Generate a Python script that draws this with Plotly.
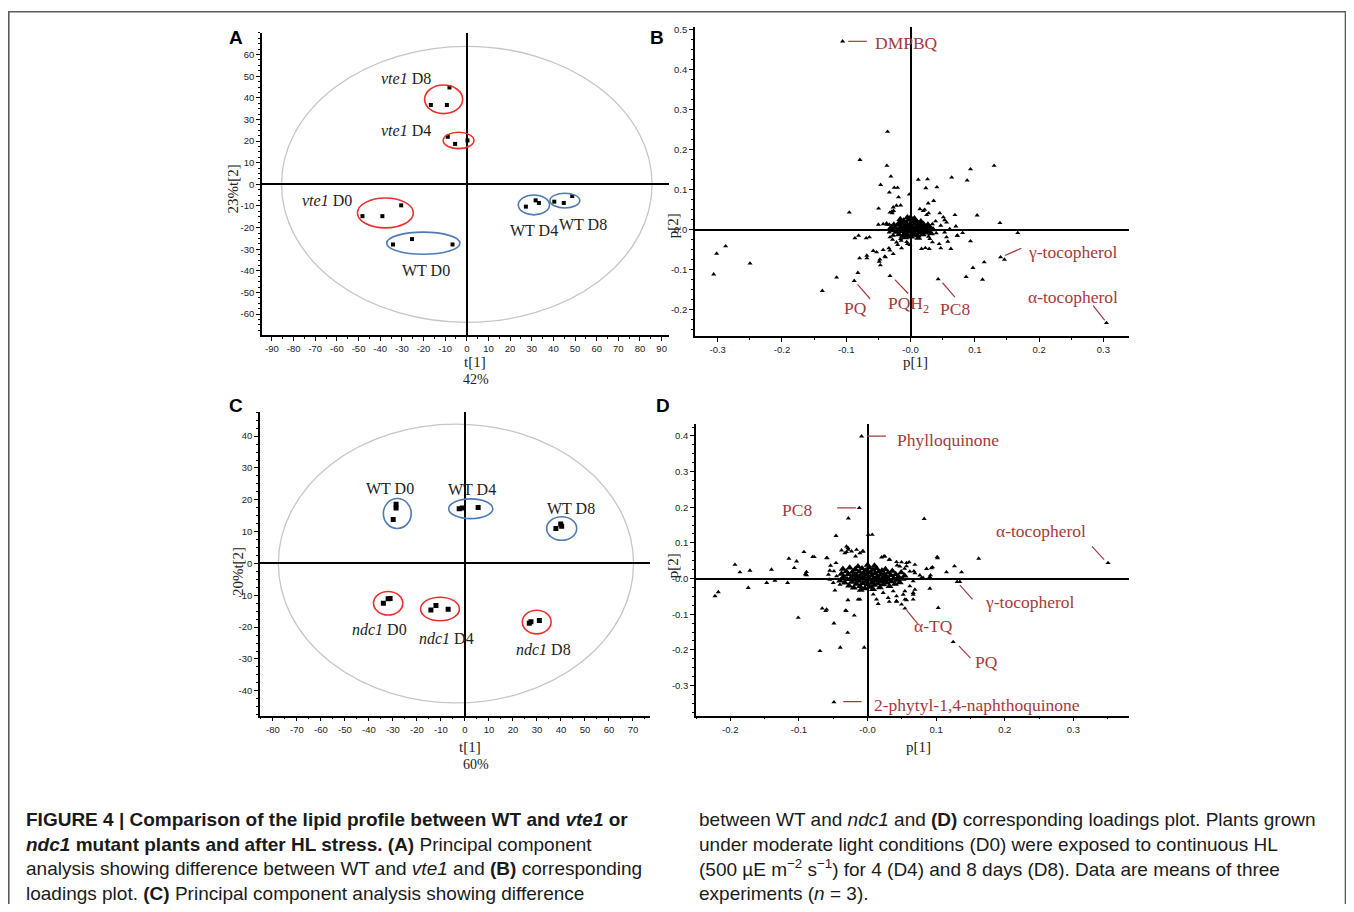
import plotly.graph_objects as go

# The page body adds an 8 px margin, so the figure is laid out in page pixels minus OFF.
OFF = 8
W, H = 1338, 896

def fx(px):
    return (px - OFF) / W

def fy(py):
    return 1 - (py - OFF) / H

SERIF = "Liberation Serif"
SANS = "Liberation Sans"
RED = "#e8312f"
BLUE = "#4f7bb5"
LBL = "#a53a3a"
GREY = "#c6c6c6"

# ---------------- DATA ----------------
# Panel A: PCA scores WT vs vte1
A_groups = ["<i>vte1</i> D8", "<i>vte1</i> D4", "<i>vte1</i> D0", "WT D0", "WT D4", "WT D8"]
A_geno = ["mut", "mut", "mut", "wt", "wt", "wt"]
A_x = [[-8.0, -16.6, -9.2], [-8.8, -5.4, 0.3], [-48.2, -39.0, -30.3],
       [-34.1, -25.3, -6.6], [27.3, 31.8, 33.3], [40.4, 44.8, 48.7]]
A_y = [[44.8, 36.7, 36.7], [22.0, 18.7, 20.3], [-14.7, -14.7, -9.7],
       [-27.8, -25.3, -27.8], [-10.3, -7.4, -8.6], [-8.0, -8.6, -5.4]]
A_ell_cx = [-10.7, -3.8, -37.6, -20.1, 31.0, 45.3]
A_ell_cy = [39.3, 20.3, -13.2, -27.2, -9.5, -7.5]
A_ell_rx = [8.8, 7.1, 12.9, 16.9, 7.2, 6.9]
A_ell_ry = [6.6, 3.8, 6.9, 5.1, 4.6, 3.4]
A_lab_x = [-28.0, -28.0, -64.5, -18.9, 30.9, 53.9]
A_lab_y = [48.8, 24.9, -7.4, -39.6, -21.2, -18.4]
A_hotelling = (0.0, 0.0, 85.6, 63.8)
A_xticks = list(range(-90, 91, 10))
A_yticks = list(range(-60, 61, 10))

# Panel C: PCA scores WT vs ndc1
C_groups = ["WT D0", "WT D4", "WT D8", "<i>ndc1</i> D0", "<i>ndc1</i> D4", "<i>ndc1</i> D8"]
C_geno = ["wt", "wt", "wt", "mut", "mut", "mut"]
C_x = [[-28.7, -28.7, -29.9], [-2.4, -1.1, 5.5], [37.9, 39.9, 40.3],
       [-34.0, -31.2, -32.0], [-14.2, -12.1, -7.0], [26.8, 27.5, 31.0]]
C_y = [[18.6, 17.4, 13.8], [17.2, 17.4, 17.6], [11.0, 12.4, 11.7],
       [-12.5, -11.0, -11.1], [-14.6, -13.2, -14.4], [-18.8, -18.3, -17.9]]
C_ell_cx = [-28.2, 2.4, 40.3, -32.0, -10.4, 29.9]
C_ell_cy = [15.7, 17.2, 11.0, -12.5, -14.3, -18.4]
C_ell_rx = [5.8, 9.2, 6.25, 6.1, 8.1, 6.0]
C_ell_ry = [4.7, 3.1, 3.7, 3.7, 3.7, 3.7]
C_lab_x = [-31.2, 3.0, 44.0, -35.7, -7.6, 32.6]
C_lab_y = [23.7, 23.4, 17.4, -20.7, -23.5, -27.0]
C_hotelling = (-3.75, 0.0, 74.0, 43.8)
C_xticks = list(range(-80, 71, 10))
C_yticks = list(range(-40, 41, 10))

# Panel B: loadings (p[1], p[2]) for WT vs vte1
B_points = [
    (-0.1057, 0.471), (-0.0358, 0.245), (-0.0788, 0.1746), (-0.0368, 0.160), (-0.0306, 0.133),
    (-0.0466, 0.112), (-0.0254, 0.105), (-0.0202, 0.105), (-0.033, 0.093), (-0.0187, 0.081),
    (-0.0953, 0.043), (-0.0497, 0.053), (0.012, 0.125), (0.0264, 0.126), (0.0238, 0.104),
    (0.041, 0.106), (0.036, 0.072), (0.0274, 0.0656), (0.064, 0.1305), (0.0933, 0.151),
    (0.088, 0.123), (0.130, 0.160), (0.069, 0.0366), (0.1036, 0.0357), (0.139, 0.0166),
    (0.1668, -0.0083), (0.0933, -0.029), (0.140, -0.069), (0.146, -0.075), (0.1145, -0.0815),
    (0.097, -0.0956), (0.0865, -0.118), (0.112, -0.125), (0.043, -0.124), (0.3047, -0.2336),
    (-0.3016, -0.060), (-0.2876, -0.0416), (-0.3062, -0.112), (-0.2497, -0.0848), (-0.1373, -0.153),
    (-0.115, -0.1197), (-0.0876, -0.128), (-0.0819, -0.108), (-0.0793, -0.0715), (-0.0679, -0.0715),
    (-0.068, -0.065), (-0.0865, -0.0216), (-0.0808, -0.015), (-0.069, -0.0216), (-0.064, -0.019),
    (-0.058, -0.053), (-0.0528, -0.0565), (-0.0487, -0.080), (-0.047, -0.089), (-0.039, -0.069),
    (-0.032, -0.052), (-0.032, -0.116), (-0.020, -0.038), (-0.050, 0.0125), (-0.0368, 0.0125),
    (-0.033, 0.0125), (-0.032, 0.043), (-0.0285, 0.041), (-0.027, 0.0557), (-0.022, 0.060),
    (-0.0155, 0.0606), (-0.002, 0.088), (0.0145, 0.0515), (0.0197, 0.047), (0.025, 0.0366),
    (0.028, 0.041), (0.0455, 0.041), (0.051, 0.031), (0.053, 0.024), (0.056, 0.018),
    (0.039, 0.021), (0.034, 0.014), (0.047, 0.010), (0.061, 0.0017), (0.0705, 0.0083),
    (0.081, -0.0083), (0.040, -0.009), (0.053, -0.0067), (0.0725, -0.015), (0.056, -0.019),
    (0.058, -0.030), (0.030, -0.023), (0.028, -0.0175), (0.034, -0.0316), (0.029, -0.048),
    (0.017, -0.048), (0.023, -0.046), (0.0445, -0.036), (0.047, -0.0466), (0.0627, -0.048),
    (0.073, -0.015), (-0.006, -0.031), (-0.0155, -0.023), (-0.0088, -0.019), (-0.027, -0.015),
    (-0.0426, 0.014), (-0.0373, 0.0157), (-0.0333, -0.0067), (-0.027, -0.0134), (-0.032, -0.019),
    (-0.028, -0.025), (-0.0218, -0.0317), (-0.0146, -0.0275), (-0.0047, -0.036), (-0.014, -0.0466),
    (-0.001, -0.038), (-0.0426, -0.051), (-0.0337, -0.0466), (-0.040, -0.0673), (-0.027, -0.0608),
    (-0.0477, -0.0748), (-0.029, 0.045), (-0.0264, 0.047), (0.022, 0.0499),
]
B_core = [
    (-0.024, 0.004), (-0.022, -0.006), (-0.020, 0.012), (-0.019, 0.000), (-0.018, -0.012),
    (-0.017, 0.018), (-0.015, 0.006), (-0.014, -0.004), (-0.013, 0.014), (-0.012, -0.016),
    (-0.011, 0.022), (-0.010, 0.002), (-0.009, -0.009), (-0.008, 0.010), (-0.007, 0.017),
    (-0.006, -0.002), (-0.005, -0.014), (-0.004, 0.006), (-0.003, 0.024), (-0.002, -0.006),
    (-0.001, 0.013), (0.000, 0.000), (0.001, -0.018), (0.002, 0.008), (0.003, 0.019),
    (0.004, -0.004), (0.005, 0.003), (0.006, -0.011), (0.007, 0.014), (0.008, 0.023),
    (0.009, -0.002), (0.010, 0.007), (0.011, -0.015), (0.012, 0.016), (0.013, 0.001),
    (0.014, -0.007), (0.015, 0.011), (0.016, 0.020), (0.017, -0.003), (0.018, 0.005),
    (0.019, -0.012), (0.020, 0.014), (0.021, -0.001), (0.022, 0.008), (0.023, -0.008),
    (0.025, 0.003), (0.027, 0.012), (0.028, -0.004), (-0.026, 0.012), (-0.027, -0.002),
    (0.030, 0.006), (-0.016, 0.026), (0.006, 0.028), (0.012, -0.021), (-0.008, -0.020),
    (0.000, 0.030), (0.032, -0.010), (0.035, 0.000), (-0.030, 0.006), (0.002, -0.012),
    (-0.005, 0.030),
]
B_labels = ["DMPBQ", "γ-tocopherol", "α-tocopherol", "PQ", "PQH<sub>2</sub>", "PC8"]
B_lab_x = [-0.0065, 0.252, 0.253, -0.085, -0.0037, 0.069]
B_lab_y = [0.467, -0.055, -0.169, -0.196, -0.188, -0.198]
B_lead = [(-0.097, 0.471, -0.068, 0.471), (0.1466, -0.065, 0.1725, -0.0466),
          (0.284, -0.190, 0.302, -0.227), (-0.0824, -0.137, -0.063, -0.173),
          (-0.0244, -0.125, -0.0037, -0.160), (0.0497, -0.133, 0.069, -0.169)]
B_xticks = [-0.3, -0.2, -0.1, 0.0, 0.1, 0.2, 0.3]
B_xtext = ["-0.3", "-0.2", "-0.1", "-0.0", "0.1", "0.2", "0.3"]
B_yticks = [-0.2, -0.1, 0.0, 0.1, 0.2, 0.3, 0.4, 0.5]
B_ytext = ["-0.2", "-0.1", "0.0", "0.1", "0.2", "0.3", "0.4", "0.5"]

# Panel D: loadings for WT vs ndc1
D_points = [
    (-0.0087, 0.399), (-0.012, 0.198), (-0.028, 0.169), (0.0825, 0.1676), (-0.046, 0.120),
    (0.001, 0.123), (0.0068, 0.123), (-0.0306, 0.090), (-0.0286, 0.0857), (0.1015, 0.0605),
    (0.162, 0.056), (0.3505, 0.0438), (0.1267, 0.0345), (0.115, 0.0177), (0.137, 0.0177),
    (0.1306, -0.0093), (0.1345, -0.0093), (0.0908, -0.028), (0.103, -0.082), (0.0544, -0.0838),
    (0.1248, -0.178), (-0.049, -0.347), (-0.0049, -0.1937), (-0.0398, -0.1937), (-0.0694, -0.203),
    (-0.029, -0.152), (-0.049, -0.1257), (-0.0194, -0.1034), (-0.031, -0.091), (-0.061, -0.091),
    (-0.066, -0.0838), (-0.101, -0.110), (-0.0286, -0.0605), (-0.0476, -0.0335), (-0.011, -0.0587),
    (-0.2223, -0.049), (-0.2175, -0.038), (-0.1738, -0.026), (-0.1932, 0.039), (-0.186, 0.0177),
    (-0.1714, 0.0223), (-0.147, -0.012), (-0.140, 0.025), (-0.135, -0.0056), (-0.1165, -0.012),
    (-0.1146, 0.0559), (-0.1068, 0.0298), (-0.1034, 0.0484), (-0.0927, 0.0745), (-0.0903, 0.013),
    (-0.0888, 0.0093), (-0.080, 0.0605), (-0.0777, 0.0605), (-0.0597, 0.0577), (-0.0539, 0.0363),
    (-0.049, 0.0205), (-0.0379, 0.079), (-0.0306, 0.0745), (-0.0282, 0.081), (-0.016, 0.081),
    (-0.0063, 0.0763), (0.0252, 0.0624), (0.0325, 0.053), (0.0422, 0.0466), (0.0568, 0.0438),
    (0.069, 0.039), (0.0432, 0.037), (0.0568, 0.0345), (0.0675, 0.0205), (0.081, 0.0019),
    (0.0917, 0.0093), (0.0947, 0.0317), (0.0665, -0.040), (0.0544, -0.0354), (0.0422, -0.065),
    (0.0316, -0.065), (0.0495, -0.0726), (0.0568, -0.0605), (0.0155, -0.0708), (0.0083, -0.0447),
    (-0.0039, -0.026), (-0.050, -0.012), (-0.0549, -0.0028), (-0.0403, -0.0168), (-0.0451, 0.0065),
    (-0.0379, 0.0158), (-0.0588, 0.0575), (-0.046, 0.0436), (-0.055, 0.0224), (-0.057, 0.011),
    (-0.0597, -0.0866), (-0.032, -0.0894), (-0.0137, -0.0587), (0.0204, 0.0595), (0.0315, 0.0531),
    (-0.033, 0.0716), (-0.0233, 0.0763), (-0.0175, 0.0623), (-0.0112, 0.0716), (-0.0073, 0.0763),
    (-0.089, 0.0184), (-0.090, 0.011), (0.102, 0.0575), (0.086, 0.0274), (0.093, 0.0293),
    (0.0907, 0.0045), (0.0237, 0.0621), (0.0495, 0.046), (0.0606, 0.046), (0.0471, 0.034),
    (0.054, 0.0275), (0.0616, 0.020), (0.069, 0.0155), (0.0762, 0.009), (0.0787, 0.0017),
    (0.0665, -0.0075), (0.0616, -0.0215), (0.069, -0.031), (0.0665, -0.045), (0.052, -0.045),
    (0.0422, -0.0496), (0.0374, -0.0355), (0.0422, -0.0633), (0.0544, -0.0587), (0.0665, -0.0587),
    (0.030, -0.0542), (0.0228, -0.0402), (0.013, -0.0587),
]
D_core = [
    (-0.035, 0.005), (-0.033, -0.012), (-0.031, 0.020), (-0.030, -0.002), (-0.028, 0.012),
    (-0.027, -0.020), (-0.026, 0.030), (-0.024, 0.002), (-0.023, -0.010), (-0.022, 0.018),
    (-0.021, 0.008), (-0.020, -0.026), (-0.019, -0.004), (-0.018, 0.026), (-0.017, 0.012),
    (-0.016, -0.015), (-0.015, 0.004), (-0.014, 0.034), (-0.013, -0.007), (-0.012, 0.019),
    (-0.011, -0.022), (-0.010, 0.009), (-0.009, -0.001), (-0.008, 0.028), (-0.007, -0.013),
    (-0.006, 0.015), (-0.005, 0.004), (-0.004, -0.028), (-0.003, 0.022), (-0.002, -0.008),
    (-0.001, 0.011), (0.000, -0.017), (0.001, 0.003), (0.002, 0.031), (0.003, -0.004),
    (0.004, 0.017), (0.005, -0.024), (0.006, 0.008), (0.007, -0.011), (0.008, 0.024),
    (0.009, 0.000), (0.010, -0.018), (0.011, 0.014), (0.012, -0.006), (0.013, 0.029),
    (0.014, 0.005), (0.015, -0.014), (0.016, 0.019), (0.017, -0.002), (0.018, -0.025),
    (0.019, 0.010), (0.020, -0.009), (0.021, 0.022), (0.022, 0.001), (0.023, -0.017),
    (0.024, 0.013), (0.025, -0.005), (0.026, 0.026), (0.027, 0.006), (0.028, -0.012),
    (0.030, 0.016), (0.031, -0.002), (0.032, -0.022), (0.034, 0.009), (0.035, -0.008),
    (0.036, 0.021), (0.038, 0.000), (0.040, -0.015), (0.041, 0.012), (0.043, -0.004),
    (0.045, 0.005), (0.047, -0.011), (0.049, 0.017), (0.051, -0.001), (0.054, 0.008),
    (-0.038, 0.013), (-0.040, -0.006), (-0.036, 0.027), (0.000, 0.038), (0.010, 0.036),
    (-0.010, -0.032), (0.008, -0.030),
]
D_labels = ["Phylloquinone", "PC8", "α-tocopherol", "γ-tocopherol", "α-TQ", "PQ",
            "2-phytyl-1,4-naphthoquinone"]
D_lab_x = [0.1175, -0.1034, 0.2524, 0.2374, 0.0966, 0.1733, 0.160]
D_lab_y = [0.388, 0.191, 0.132, -0.066, -0.133, -0.2337, -0.355]
D_lead = [(-0.0005, 0.3995, 0.0267, 0.3995), (-0.0442, 0.198, -0.017, 0.198),
          (0.327, 0.0903, 0.3447, 0.053), (0.1345, -0.0186, 0.153, -0.0587),
          (0.0568, -0.0885, 0.0738, -0.1285), (0.133, -0.189, 0.150, -0.2235),
          (-0.0354, -0.3454, -0.0087, -0.3454)]
D_xticks = [-0.2, -0.1, 0.0, 0.1, 0.2, 0.3]
D_xtext = ["-0.2", "-0.1", "-0.0", "0.1", "0.2", "0.3"]
D_yticks = [-0.3, -0.2, -0.1, 0.0, 0.1, 0.2, 0.3, 0.4]
D_ytext = ["-0.3", "-0.2", "-0.1", "-0.0", "0.1", "0.2", "0.3", "0.4"]

CAPTION_LEFT = [
    "<b>FIGURE 4 | Comparison of the lipid profile between WT and <i>vte1</i> or</b>",
    "<b><i>ndc1</i> mutant plants and after HL stress. (A)</b> Principal component",
    "analysis showing difference between WT and <i>vte1</i> and <b>(B)</b> corresponding",
    "loadings plot. <b>(C)</b> Principal component analysis showing difference",
]
CAPTION_RIGHT = [
    "between WT and <i>ndc1</i> and <b>(D)</b> corresponding loadings plot. Plants grown",
    "under moderate light conditions (D0) were exposed to continuous HL",
    "(500 µE m<sup>−2</sup> s<sup>−1</sup>) for 4 (D4) and 8 days (D8). Data are means of three",
    "experiments (<i>n</i> = 3).",
]

# ---------------- FIGURE ----------------
fig = go.Figure()
annotations = []
shapes = []

geno_color = {"wt": BLUE, "mut": RED}


def add_scores(groups, geno, xs, ys, cx, cy, rx, ry, lx, ly, hot, xa, ya, msize):
    hx, hy, hrx, hry = hot
    shapes.append(dict(type="circle", xref=xa, yref=ya, x0=hx - hrx, x1=hx + hrx,
                       y0=hy - hry, y1=hy + hry, line=dict(color=GREY, width=1.3), layer="below"))
    for i, g in enumerate(groups):
        fig.add_trace(go.Scatter(x=xs[i], y=ys[i], mode="markers", xaxis=xa, yaxis=ya,
                                 marker=dict(symbol="square", size=msize, color="black"),
                                 showlegend=False, hoverinfo="skip"))
        shapes.append(dict(type="circle", xref=xa, yref=ya, x0=cx[i] - rx[i], x1=cx[i] + rx[i],
                           y0=cy[i] - ry[i], y1=cy[i] + ry[i],
                           line=dict(color=geno_color[geno[i]], width=1.6)))
        annotations.append(dict(x=lx[i], y=ly[i], xref=xa, yref=ya, text=g, showarrow=False,
                                font=dict(family=SERIF, size=16, color="#222")))


def add_loadings(points, core, labels, lx, ly, lead, xa, ya):
    fig.add_trace(go.Scatter(x=[p[0] for p in core], y=[p[1] for p in core], mode="markers",
                             xaxis=xa, yaxis=ya,
                             marker=dict(symbol="triangle-up", size=7, color="black"),
                             showlegend=False, hoverinfo="skip"))
    fig.add_trace(go.Scatter(x=[p[0] for p in points], y=[p[1] for p in points], mode="markers",
                             xaxis=xa, yaxis=ya,
                             marker=dict(symbol="triangle-up", size=4.5, color="black"),
                             showlegend=False, hoverinfo="skip"))
    for i, t in enumerate(labels):
        annotations.append(dict(x=lx[i], y=ly[i], xref=xa, yref=ya, text=t, showarrow=False,
                                font=dict(family=SERIF, size=17.5, color=LBL)))
    for (x0, y0, x1, y1) in lead:
        shapes.append(dict(type="line", xref=xa, yref=ya, x0=x0, y0=y0, x1=x1, y1=y1,
                           line=dict(color=LBL, width=1.2)))


add_scores(A_groups, A_geno, A_x, A_y, A_ell_cx, A_ell_cy, A_ell_rx, A_ell_ry,
           A_lab_x, A_lab_y, A_hotelling, "x", "y", 4)
add_loadings(B_points, B_core, B_labels, B_lab_x, B_lab_y, B_lead, "x2", "y2")
add_scores(C_groups, C_geno, C_x, C_y, C_ell_cx, C_ell_cy, C_ell_rx, C_ell_ry,
           C_lab_x, C_lab_y, C_hotelling, "x3", "y3", 5)
add_loadings(D_points, D_core, D_labels, D_lab_x, D_lab_y, D_lead, "x4", "y4")


def ax(domain, rng, tv, tt, minor_dt, anchor):
    return dict(domain=domain, range=rng, anchor=anchor, showline=True, linecolor="black",
                linewidth=1.6, ticks="outside", ticklen=4, tickwidth=1.2, tickcolor="black",
                tickmode="array", tickvals=tv, ticktext=tt,
                minor=dict(tickmode="linear", tick0=0, dtick=minor_dt, ticks="outside",
                           ticklen=2, tickwidth=1, tickcolor="black"),
                showgrid=False, zeroline=True, zerolinecolor="black", zerolinewidth=1.6,
                tickfont=dict(family=SANS, size=9.5, color="#222"), fixedrange=True)


def lab(v):
    return [str(t) for t in v]

fig.update_layout(
    xaxis=ax([fx(262), fx(669)], [-94.6, 93.4], A_xticks, lab(A_xticks), 5, "y"),
    yaxis=ax([fy(333), fy(30)], [-69.6, 70.0], A_yticks, lab(A_yticks), 2.5, "x"),
    xaxis2=ax([fx(695), fx(1129)], [-0.3353, 0.3398], B_xticks, B_xtext, 0.05, "y2"),
    yaxis2=ax([fy(334), fy(24)], [-0.266, 0.507], B_yticks, B_ytext, 0.025, "x2"),
    xaxis3=ax([fx(260), fx(650)], [-85.4, 77.1], C_xticks, lab(C_xticks), 5, "y3"),
    yaxis3=ax([fy(715), fy(410)], [-47.8, 47.7], C_yticks, lab(C_yticks), 2.5, "x3"),
    xaxis4=ax([fx(696), fx(1129)], [-0.25, 0.381], D_xticks, D_xtext, 0.05, "y4"),
    yaxis4=ax([fy(715), fy(422)], [-0.3846, 0.4346], D_yticks, D_ytext, 0.025, "x4"),
)

# axis titles and panel letters (paper coordinates)
def ptext(px, py, text, size, family=SERIF, angle=0, color="#222", xanchor="center"):
    annotations.append(dict(x=fx(px), y=fy(py), xref="paper", yref="paper", text=text,
                            showarrow=False, textangle=angle, xanchor=xanchor, yanchor="middle",
                            font=dict(family=family, size=size, color=color)))

ptext(475, 360, "t[1]", 15)
ptext(476, 378, "42%", 14)
ptext(233, 187, "23%t[2]", 15, angle=-90)
ptext(915, 360, "p[1]", 15)
ptext(673, 224, "p[2]", 15, angle=-90)
ptext(470, 746, "t[1]", 15)
ptext(476, 764, "60%", 14)
ptext(238, 570, "20%t[2]", 15, angle=-90)
ptext(918, 746, "p[1]", 15)
ptext(673, 565, "p[2]", 15, angle=-90)

for (px, py, t) in [(236, 35, "A"), (657, 35, "B"), (236, 404, "C"), (663, 404, "D")]:
    ptext(px, py, "<b>%s</b>" % t, 19, family=SANS, color="black")

cap_y = [819, 844, 868, 893]
for i, t in enumerate(CAPTION_LEFT):
    ptext(24, cap_y[i], t, 19, family=SANS, color="#1a1a1a", xanchor="left")
for i, t in enumerate(CAPTION_RIGHT):
    ptext(697, cap_y[i], t, 19, family=SANS, color="#1a1a1a", xanchor="left")

# outer frame (left, top and right edges)
shapes.append(dict(type="rect", xref="paper", yref="paper", x0=fx(8.8), x1=fx(1345.5),
                   y0=-0.05, y1=fy(8.8), line=dict(color="#5a5a5a", width=1.6)))

fig.update_layout(width=W, height=H, autosize=False, margin=dict(l=0, r=0, t=0, b=0),
                  paper_bgcolor="white", plot_bgcolor="white",
                  annotations=annotations, shapes=shapes, showlegend=False)

fig.write_html("out.html")
